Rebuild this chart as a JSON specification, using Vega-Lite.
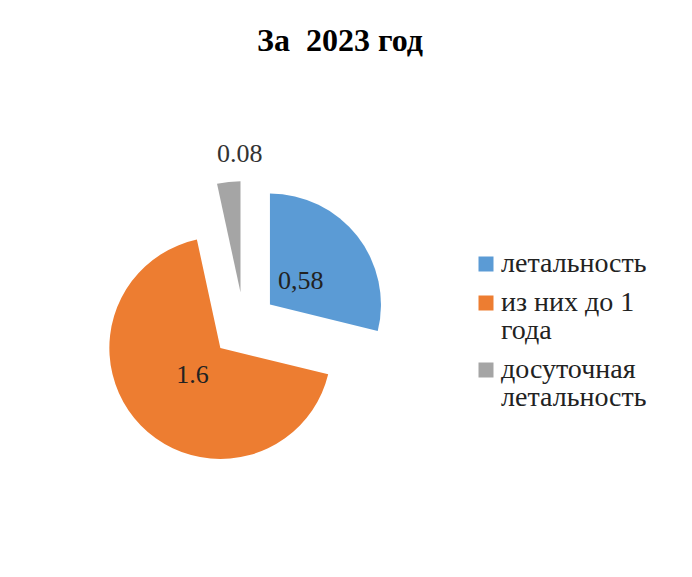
{
  "$schema": "https://vega.github.io/schema/vega-lite/v6.json",
  "width": 488,
  "height": 490,
  "autosize": {"type": "none"},
  "padding": {"top": 80, "left": 0, "right": 204, "bottom": 7},
  "background": "white",
  "config": {"view": {"stroke": null}, "font": "Liberation Serif"},
  "title": {
    "text": "За\u00a0 2023 год",
    "font": "Liberation Serif",
    "fontSize": 32,
    "fontWeight": "bold",
    "color": "#000000",
    "anchor": "middle",
    "frame": "group",
    "dx": 96,
    "offset": 22
  },
  "data": {
    "values": [
      {"category": "летальность", "value": 0.68, "label": "0,58"},
      {"category": "из них до 1 года", "value": 1.6, "label": "1.6"},
      {"category": "досуточная летальность", "value": 0.08, "label": "0.08"}
    ]
  },
  "encoding": {
    "theta": {"field": "value", "type": "quantitative", "stack": true},
    "order": {"field": "category", "sort": "descending"},
    "color": {
      "field": "category",
      "type": "nominal",
      "sort": ["летальность", "из них до 1 года", "досуточная летальность"],
      "scale": {
        "domain": ["летальность", "из них до 1 года", "досуточная летальность"],
        "range": ["#5B9BD5", "#ED7D31", "#A5A5A5"]
      },
      "legend": {
        "title": null,
        "orient": "none",
        "legendX": 472,
        "legendY": 170,
        "padding": 0,
        "symbolType": "square",
        "symbolSize": 225,
        "symbolStrokeWidth": 0,
        "symbolOpacity": 1,
        "labelFont": "Liberation Serif",
        "labelFontSize": 28,
        "labelColor": "#222222",
        "labelOffset": 1,
        "labelLimit": 300,
        "rowPadding": 11,
        "labelExpr": "datum.label === 'из них до 1 года' ? ['из них до 1', 'года'] : datum.label === 'досуточная летальность' ? ['досуточная', 'летальность'] : datum.label",
        "encode": {"labels": {"update": {"lineHeight": {"value": 28}}}}
      }
    }
  },
  "layer": [
    {
      "mark": {
        "type": "arc",
        "radius": 111,
        "xOffset": {"expr": "33*sin((scale('theta', datum.value_start) + scale('theta', datum.value_end))/2)"},
        "yOffset": {"expr": "-33*cos((scale('theta', datum.value_start) + scale('theta', datum.value_end))/2)"}
      }
    },
    {
      "mark": {"type": "text", "radius": 72, "font": "Liberation Serif", "fontSize": 26},
      "encoding": {
        "text": {"field": "label"},
        "fill": {"value": "#222222"},
        "opacity": {"condition": {"test": "datum.category === 'досуточная летальность'", "value": 0}, "value": 1}
      }
    },
    {
      "mark": {"type": "text", "radius": 172, "dx": 14, "font": "Liberation Serif", "fontSize": 26},
      "encoding": {
        "text": {"field": "label"},
        "fill": {"value": "#333333"},
        "opacity": {"condition": {"test": "datum.category === 'досуточная летальность'", "value": 1}, "value": 0}
      }
    }
  ]
}
